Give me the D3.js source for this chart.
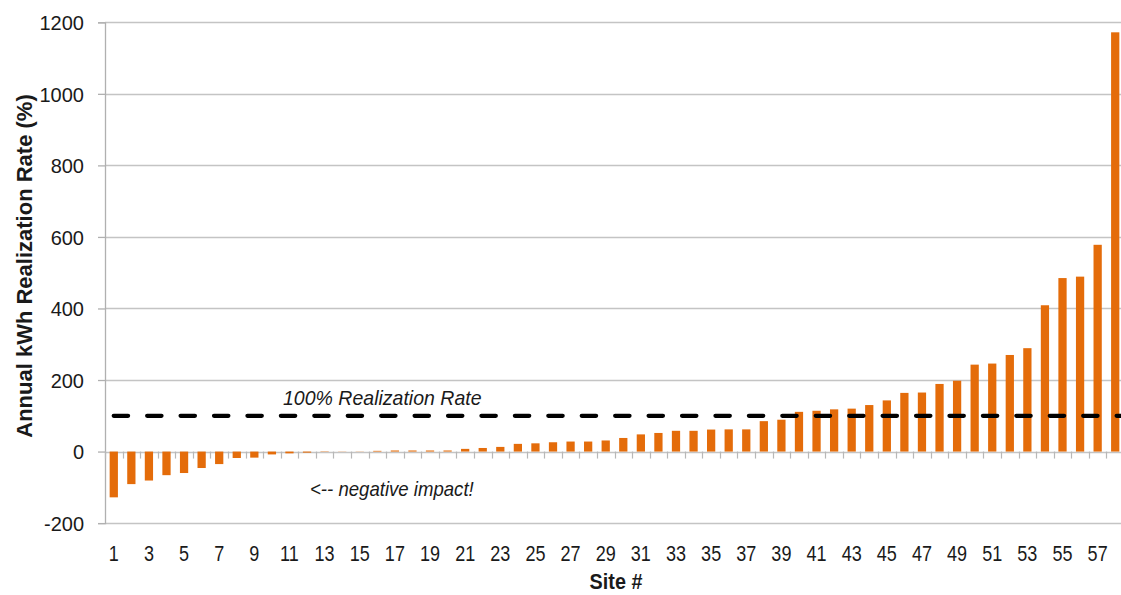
<!DOCTYPE html>
<html>
<head>
<meta charset="utf-8">
<script src="https://cdn.jsdelivr.net/npm/d3@7"></script>
<style>
  html, body { margin: 0; padding: 0; background: #fff; }
  svg { display: block; }
  text { font-family: "Liberation Sans", Arial, sans-serif; }
</style>
</head>
<body>
<svg id="chart" width="1121" height="595"></svg>
<script>
const sites = d3.range(1, 59);
const values = [
  -128, -91, -81, -66, -60, -46, -35, -18, -17, -8,
  -5, -3, -1, -0.5, 0.5, 2, 3, 3, 3, 3,
  7.5, 10, 13, 21.5, 23, 26, 28, 28, 31, 38,
  48, 52, 58, 58, 61.5, 62, 62, 85, 89, 111,
  114, 118, 120, 130, 143, 164, 165, 189, 198, 243,
  246, 270, 289, 409, 485, 489, 578, 1172
];
const yTicks = [-200, 0, 200, 400, 600, 800, 1000, 1200];
const xTickLabels = sites.filter(s => s % 2 === 1);
const targetRate = 100;
const yTitle = "Annual kWh Realization Rate (%)";
const xTitle = "Site #";
const targetLabel = "100% Realization Rate";
const negLabel = "<-- negative impact!";

const svg = d3.select("#chart");
const mLeft = 105, mRight = 1124, mTop = 22.3, mBottom = 523.1;

const x = d3.scaleBand().domain(sites).range([mLeft, mRight])
  .paddingInner(0.53).paddingOuter(0.265);
const y = d3.scaleLinear().domain([-200, 1200]).range([mBottom, mTop]);

// gridlines
svg.append("g").selectAll("line").data(yTicks).join("line")
  .attr("x1", mLeft).attr("x2", 1121)
  .attr("y1", d => Math.round(y(d)) + 0.5).attr("y2", d => Math.round(y(d)) + 0.5)
  .attr("stroke", "#c4c4c4").attr("stroke-width", 1.3);

// y axis
const yAxis = d3.axisLeft(y).tickValues(yTicks).tickSize(7).tickPadding(14)
  .tickFormat(d => String(d));
const gy = svg.append("g").attr("transform", `translate(${mLeft},0)`).call(yAxis);
gy.select(".domain").attr("stroke", "#b0b0b0").attr("stroke-width", 1.3);
gy.selectAll(".tick line").attr("stroke", "#b0b0b0").attr("stroke-width", 1.3);
gy.selectAll(".tick text").attr("font-size", 20).attr("fill", "#1a1a1a")
  .attr("font-family", "Liberation Sans, Arial, sans-serif").attr("dy", "0.36em");

// category axis at zero: ticks at band boundaries
const bounds = sites.map(s => x(s) - x.step() * x.paddingInner() / 2).concat([mRight]);
svg.append("g").selectAll("line").data(bounds).join("line")
  .attr("x1", d => Math.round(d) + 0.5).attr("x2", d => Math.round(d) + 0.5)
  .attr("y1", y(0)).attr("y2", y(0) + 7)
  .attr("stroke", "#b8b8b8").attr("stroke-width", 1.2);

// bars
svg.append("g").selectAll("rect").data(values).join("rect")
  .attr("x", (d, i) => x(sites[i]))
  .attr("width", x.bandwidth())
  .attr("y", d => y(Math.max(0, d)))
  .attr("height", d => Math.abs(y(d) - y(0)))
  .attr("fill", "#e46c0a");

// x tick labels (narrow)
svg.append("g").selectAll("text").data(xTickLabels).join("text")
  .attr("transform", d => `translate(${x(d) + x.bandwidth() / 2},561) scale(0.82,1)`)
  .attr("text-anchor", "middle").attr("font-size", 22).attr("fill", "#1a1a1a")
  .text(d => d);

// target dashed line
svg.append("line")
  .attr("x1", 113.7).attr("x2", 1121)
  .attr("y1", y(targetRate)).attr("y2", y(targetRate))
  .attr("stroke", "#000").attr("stroke-width", 4.2)
  .attr("stroke-linecap", "round").attr("stroke-dasharray", "14.4,19.03");

// annotations
svg.append("text").attr("transform", "translate(283,405) scale(0.93,1)")
  .attr("font-size", 21).attr("font-style", "italic").attr("fill", "#1a1a1a")
  .text(targetLabel);
svg.append("text").attr("transform", "translate(310,496) scale(0.93,1)")
  .attr("font-size", 20).attr("font-style", "italic").attr("fill", "#1a1a1a")
  .text(negLabel);

// axis titles
svg.append("text").attr("transform", "translate(32,266) rotate(-90)")
  .attr("text-anchor", "middle").attr("font-size", 22).attr("font-weight", "bold")
  .attr("fill", "#1a1a1a").text(yTitle);
svg.append("text").attr("transform", "translate(616,589) scale(0.9,1)")
  .attr("text-anchor", "middle").attr("font-size", 22).attr("font-weight", "bold")
  .attr("fill", "#1a1a1a").text(xTitle);
</script>
</body>
</html>
